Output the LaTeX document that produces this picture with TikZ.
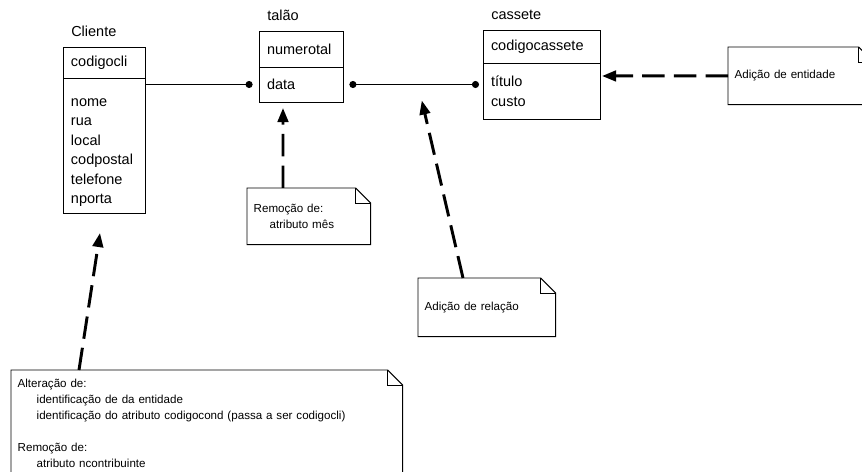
\documentclass[tikz,border=0pt]{standalone}
\usepackage{fontspec}
\setmainfont{Liberation Sans}
\usetikzlibrary{positioning,calc,arrows.meta}

\newcommand\notefold{0.375cm}
% note outline with the top right corner folded down
\newcommand\drawnote[1]{%
  \draw[noteline] (#1.north west) -- ([xshift=-\notefold]#1.north east)
    -- ([yshift=-\notefold]#1.north east) -- (#1.south east)
    -- (#1.south west) -- cycle;
  \draw[noteline] ([xshift=-\notefold]#1.north east) |- ([yshift=-\notefold]#1.north east);}

\tikzset{
  title/.style={inner xsep=0.2cm, inner ysep=0pt, text depth=0pt, font=\fontsize{10.3}{13.7}\selectfont},
  compartment/.style={draw, line width=0.7pt, outer sep=0pt, align=left, inner xsep=0.2cm, font=\fontsize{10.3}{13.9}\selectfont},
  note/.style={anchor=north west, align=left, inner xsep=0.16cm, font=\fontsize{8.25}{11.6}\selectfont},
  noteline/.style={line width=0.7pt},
  assoc/.style={line width=0.7pt},
  change/.style={line width=2.1pt, dash pattern=on 16pt off 6.5pt, -{Triangle[length=10pt,width=7.5pt]}},
}

\begin{document}
\begin{tikzpicture}
  \useasboundingbox (0,0) rectangle (21.55,11.8);

  % Entities
  \node[compartment, anchor=north west, text width=1.65cm, minimum height=0.775cm] (cli-key) at (1.575,10.625) {codigocli};
  \node[compartment, below=0pt of cli-key, text width=1.65cm, minimum height=3.375cm] (cli-attr) {\rule{0pt}{0.55cm}nome\\rua\\local\\codpostal\\telefone\\nporta};
  \node[title, above right=0.25cm and 0cm of cli-key.north west] (cli-name) {Cliente};

  \node[compartment, anchor=north west, text width=1.7cm, minimum height=0.9cm] (tal-key) at (6.475,11.025) {numerotal};
  \node[compartment, below=0pt of tal-key, text width=1.7cm, minimum height=0.875cm] (tal-data) {data};
  \node[title, above right=0.25cm and 0cm of tal-key.north west] (tal-name) {talão};

  \node[compartment, anchor=north west, text width=2.525cm, minimum height=0.825cm] (cas-key) at (12.075,11.05) {codigocassete};
  \node[compartment, below=0pt of cas-key, text width=2.525cm, minimum height=1.4cm] (cas-attr) {título\\custo};
  \node[title, above right=0.25cm and 0cm of cas-key.north west] (cas-name) {cassete};

  % Relationships
  \coordinate (dot-a) at ($(tal-data.west)+(-0.16,0)$);
  \coordinate (dot-b) at ($(tal-data.east)+(0.16,0)$);
  \coordinate (dot-c) at ($(cas-attr.west |- dot-b)+(-0.1,0)$);
  \draw[assoc, -{Circle[length=5pt]}] (cli-attr.east |- dot-a) -- (dot-a);
  \draw[assoc, {Circle[length=5pt]}-{Circle[length=5pt]}] (dot-b) -- (dot-c);

  % Notes
  \node[note, text width=9.455cm, minimum height=2.65cm] (alt-note) at (0.275,2.55)
    {Alteração de:\\\hspace*{0.475cm}identificação de da entidade\\\hspace*{0.475cm}identificação do atributo codigocond (passa a ser codigocli)\\[0.375cm]Remoção de:\\\hspace*{0.475cm}atributo ncontribuinte};
  \node[note, text width=2.755cm, minimum height=1.4cm] (rem-note) at (6.175,7.1) {Remoção de:\\\hspace*{0.4cm}atributo mês};
  \node[note, text width=3.105cm, minimum height=1.45cm] (rel-note) at (10.45,4.85) {Adição de relação};
  \node[note, text width=3.305cm, minimum height=1.425cm] (ent-note) at (18.2,10.625) {Adição de entidade};
  \drawnote{alt-note}
  \drawnote{rem-note}
  \drawnote{rel-note}
  \drawnote{ent-note}

  % Arrows from the notes
  \coordinate (cli-tip) at ($(cli-attr.south)+(-0.1,-0.5)$);
  \coordinate (tal-tip) at ($(tal-data.south)+(-0.45,-0.15)$);
  \coordinate (rel-tip) at ($(dot-b)+(1.81,-0.4)$);
  \coordinate (cas-tip) at ($(cas-attr.east)+(0.05,0.375)$);
  \draw[change] ($(alt-note.north west)+(1.7,0)$) -- (cli-tip);
  \draw[change] ($(rem-note.north west)+(0.9,0)$) -- (tal-tip);
  \draw[change] ($(rel-note.north west)+(1.125,0)$) -- (rel-tip);
  \draw[change] (ent-note.west) -- (cas-tip);
\end{tikzpicture}
\end{document}
